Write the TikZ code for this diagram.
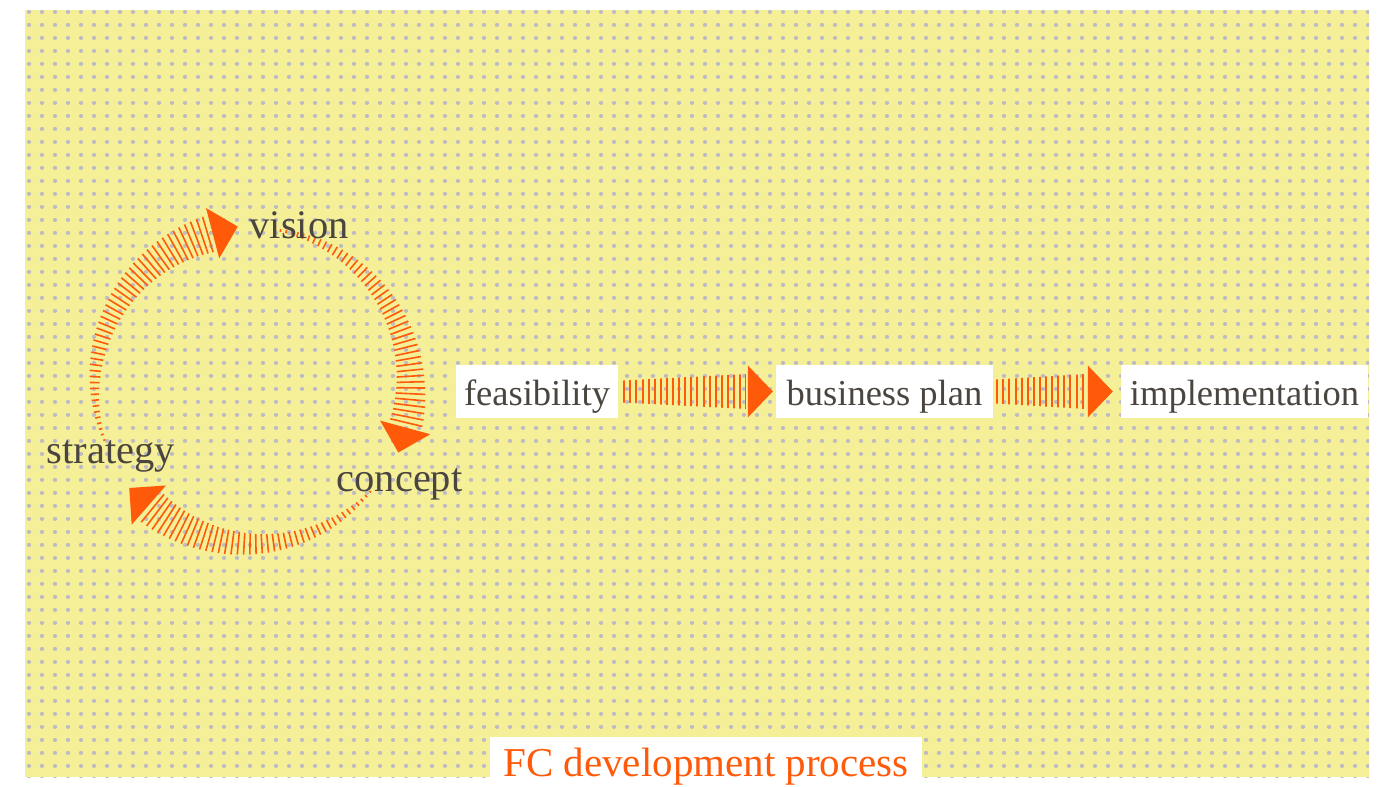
\documentclass[tikz,border=0pt]{standalone}
\usepackage{fontspec}
\setmainfont{Liberation Serif}
\usetikzlibrary{calc}
\definecolor{bgyellow}{RGB}{245,240,152}
\definecolor{dotgray}{RGB}{190,188,194}
\definecolor{arroworange}{RGB}{255,90,10}
\definecolor{textgray}{RGB}{75,69,64}
\def\arccx{252.7}
\def\arccy{386}
\def\arcr{158}
% a0, a1, L0, L1, N, arrow-base angle
\newcommand\tickarc[6]{%
  \foreach \i in {0,...,#5}{%
    \pgfmathsetmacro\tkfrac{\i/(#5)}%
    \pgfmathsetmacro\tkang{(#1)+((#2)-(#1))*\tkfrac}%
    \pgfmathsetmacro\tklen{(#3)+((#4)-(#3))*\tkfrac}%
    \pgfmathsetmacro\tkxin{\arccx+(\arcr-\tklen/2)*cos(\tkang)}%
    \pgfmathsetmacro\tkyin{\arccy-(\arcr-\tklen/2)*sin(\tkang)}%
    \pgfmathsetmacro\tkxout{\arccx+(\arcr+\tklen/2)*cos(\tkang)}%
    \pgfmathsetmacro\tkyout{\arccy-(\arcr+\tklen/2)*sin(\tkang)}%
    \draw[arctick] (\tkxin,\tkyin) -- (\tkxout,\tkyout);
  }%
  \pgfmathsetmacro\hxa{\arccx+(\arcr-26)*cos(#6)}%
  \pgfmathsetmacro\hya{\arccy-(\arcr-26)*sin(#6)}%
  \pgfmathsetmacro\hxb{\arccx+(\arcr+26)*cos(#6)}%
  \pgfmathsetmacro\hyb{\arccy-(\arcr+26)*sin(#6)}%
  \pgfmathsetmacro\hxt{\arccx+\arcr*cos(#6)+26*sin(#6)}%
  \pgfmathsetmacro\hyt{\arccy-\arcr*sin(#6)+26*cos(#6)}%
  \fill[arroworange] (\hxa,\hya) -- (\hxt,\hyt) -- (\hxb,\hyb) -- cycle;
}
% from node, to node, start gap, tip gap, thin half height
\newcommand\stripearrow[5]{%
  \begin{scope}
    \clip ($(#1.east)+(#3,-#5)$) -- ($(#2.west)+(-#4-27,-17.5)$) --
          ($(#2.west)+(-#4-27,17.5)$) -- ($(#1.east)+(#3,#5)$) -- cycle;
    \draw[stripes] ($(#1.east)+(#3,0)$) -- ($(#2.west)+(-#4-27,0)$);
  \end{scope}
  \fill[arroworange] ($(#2.west)+(-#4-25,-26)$) -- ($(#2.west)+(-#4,0)$) --
        ($(#2.west)+(-#4-25,26)$) -- cycle;
}
\begin{document}
\begin{tikzpicture}[x=1pt,y=-1pt,
  dotrow/.style={dotgray, line width=4.4pt, line cap=round, dash pattern=on 0.01pt off 12.99pt},
  arctick/.style={arroworange, line width=1.6pt},
  stripes/.style={arroworange, line width=40pt, dash pattern=on 2pt off 4.1pt},
  boxlabel/.style={fill=white, inner xsep=0pt, inner ysep=0pt, text height=40pt, text depth=13pt,
    text=textgray, font=\fontsize{36.5}{40}\selectfont},
  cirlabel/.style={inner sep=0pt, text=textgray, font=\fontsize{40.5}{44}\selectfont, anchor=base},
  titlelabel/.style={fill=white, inner xsep=0pt, inner ysep=0pt, text height=39pt, text depth=11pt,
    text=arroworange, font=\fontsize{41}{45}\selectfont}]
\useasboundingbox (0,0) rectangle (1393,787);
\fill[bgyellow] (25,10) rectangle (1369,777);
\begin{scope}
  \clip (25,10) rectangle (1369,777);
  \foreach \row in {0,...,59}
    \draw[dotrow] (29,{11.7+13*\row}) -- (1370,{11.7+13*\row});
\end{scope}
% cycle arcs
\tickarc{200}{106.5}{2}{37}{44}{104.7}
\tickarc{82}{-13.4}{2}{33}{45}{-15.2}
\tickarc{-42}{-129.3}{2}{36}{41}{-131.1}
% cycle labels
\node[cirlabel] (vision) at (299,238) {vision};
\node[cirlabel] (strategy) at (111,463) {strategy};
\node[cirlabel] (concept) at (399.5,491) {concept};
% process boxes
\node[boxlabel, minimum width=162pt] (feas) at (537,391.5) {feasibility};
\node[boxlabel, minimum width=217pt] (bplan) at (884.5,391.5) {business plan};
\node[boxlabel, minimum width=247pt] (impl) at (1244.5,391.5) {implementation};
\stripearrow{feas}{bplan}{5}{3}{11}
\stripearrow{bplan}{impl}{3}{8}{12}
% title
\node[titlelabel, minimum width=432pt] (title) at (706,762) {FC development process};
\end{tikzpicture}
\end{document}
